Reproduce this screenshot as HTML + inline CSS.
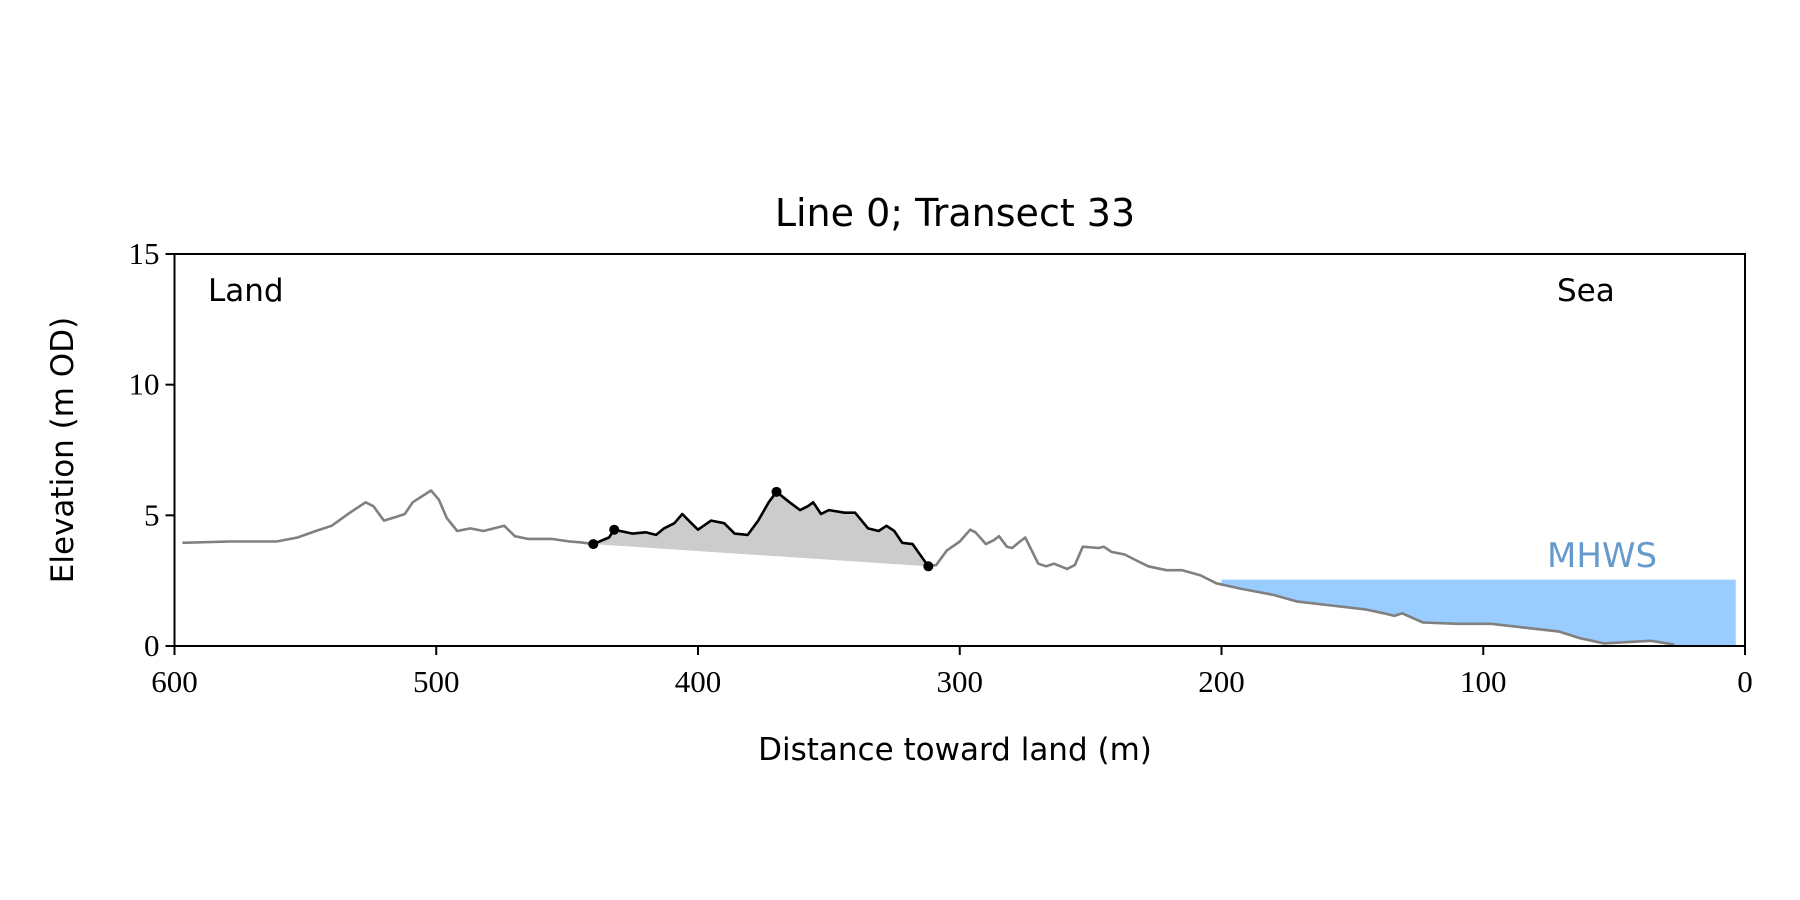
<!DOCTYPE html>
<html><head><meta charset="utf-8"><style>
html,body{margin:0;padding:0;background:#fff;}
svg{display:block;}
.sans{font-family:"DejaVu Sans","Liberation Sans",sans-serif;}
.serif{font-family:"Liberation Serif","DejaVu Serif",serif;}
</style></head><body>
<svg id="chart" width="1800" height="900" viewBox="0 0 1800 900">
<g id="plot"></g>
</svg>
<script>
const xTicks=[600,500,400,300,200,100,0];
const yTicks=[0,5,10,15];
const landDist=[597,579,561,553,546,540,533,527,524,520,515,512,509,502,499,496,492,487,482,474,470,465,456,449,445,440];
const landElev=[3.95,4.0,4.0,4.15,4.4,4.6,5.1,5.5,5.35,4.8,4.95,5.05,5.5,5.95,5.6,4.9,4.4,4.5,4.4,4.6,4.2,4.1,4.1,4.0,3.97,3.9];
const duneDist=[440,434,432,425,420,416,413,409,406,403,400,395,390,386,381,377,373,370,365,361,358,356,353,350,344,340,335,331,328,325,322,318,312];
const duneElev=[3.9,4.15,4.45,4.3,4.35,4.25,4.5,4.7,5.05,4.75,4.45,4.8,4.7,4.3,4.25,4.8,5.5,5.9,5.5,5.2,5.35,5.5,5.05,5.2,5.1,5.1,4.5,4.4,4.6,4.4,3.95,3.9,3.05];
const seaDist=[312,309,305,300,296,294,290,287,285,282,280,277,275,270,267,264,259,256,253,247,245,242,237,232,228,221,215,208,202,193,180,171,158,145,138,134,131,123,110,97,84,71,63,54,36,27];
const seaElev=[3.05,3.1,3.65,4.0,4.45,4.35,3.9,4.05,4.2,3.8,3.75,4.0,4.15,3.15,3.05,3.15,2.95,3.1,3.8,3.75,3.8,3.6,3.5,3.25,3.05,2.9,2.9,2.7,2.4,2.2,1.95,1.7,1.55,1.4,1.25,1.15,1.25,0.9,0.85,0.85,0.7,0.55,0.3,0.1,0.2,0.05];
const duneMarkers=[440,432,370,312];
const mhws=2.54;
const mhwsStart=200, mhwsEnd=3.5;

const L=174.5,R=1745,T=254,B=646;
const xs=d=>L+(600-d)/600*(R-L);
const ys=e=>B-e/15*(B-T);
const NS='http://www.w3.org/2000/svg';
const g=document.getElementById('plot');
function mk(tag,attrs,parent){const e=document.createElementNS(NS,tag);for(const k in attrs)e.setAttribute(k,attrs[k]);(parent||g).appendChild(e);return e;}
function pts(ds,es){return ds.map((d,i)=>xs(d).toFixed(1)+','+ys(es[i]).toFixed(1)).join(' ');}
function elevAt(d){const D=landDist.concat(duneDist,seaDist),E=landElev.concat(duneElev,seaElev);
 for(let i=0;i<D.length-1;i++){if(d<=D[i]&&d>=D[i+1]){const t=(D[i]-d)/(D[i]-D[i+1]||1);return E[i]+t*(E[i+1]-E[i]);}}
 return 0;}

// MHWS fill
{const top=[],bot=[];const steps=200;
 for(let i=0;i<=steps;i++){const d=mhwsStart+(mhwsEnd-mhwsStart)*i/steps;top.push(xs(d).toFixed(1)+','+ys(mhws).toFixed(1));
  bot.push(xs(d).toFixed(1)+','+ys(Math.min(elevAt(d),mhws)).toFixed(1));}
 const p=mk('polygon',{points:top.concat(bot.reverse()).join(' '),fill:'#99ccff'});
 
 }
// dune fill
{const p=mk('polygon',{points:pts(duneDist,duneElev),fill:'#cccccc'});
 
 }
// lines
{const l1=mk('polyline',{points:pts(landDist,landElev),fill:'none',stroke:'#808080','stroke-width':2.6,'stroke-linejoin':'round'});
 
 
 const l2=mk('polyline',{points:pts(seaDist,seaElev),fill:'none',stroke:'#808080','stroke-width':2.6,'stroke-linejoin':'round'});
 
 
 const l3=mk('polyline',{points:pts(duneDist,duneElev),fill:'none',stroke:'#000','stroke-width':2.6,'stroke-linejoin':'round'});
 
 }
duneMarkers.forEach(d=>{const c=mk('circle',{cx:xs(d),cy:ys(elevAt(d)),r:5,fill:'#000'});
 
 });
// axes frame
{const f=mk('rect',{x:L,y:T,width:R-L,height:B-T,fill:'none',stroke:'#000','stroke-width':2});
 
 }
xTicks.forEach(v=>{const t=mk('line',{x1:xs(v),x2:xs(v),y1:B,y2:B+9,stroke:'#000','stroke-width':2});
 
 
 const tx=mk('text',{x:xs(v),y:B+46,'text-anchor':'middle','font-size':31,class:'serif'});tx.textContent=v;
 
 });
yTicks.forEach(v=>{const t=mk('line',{x1:L-9,x2:L,y1:ys(v),y2:ys(v),stroke:'#000','stroke-width':2});
 
 
 const tx=mk('text',{x:L-15,y:ys(v)+10,'text-anchor':'end','font-size':31,class:'serif'});tx.textContent=v;
 
 });
</script>
<svg width="1800" height="900" style="position:absolute;left:0;top:0">
<text x="955" y="226" text-anchor="middle" font-size="38" class="sans">Line 0; Transect 33</text>
<text x="208" y="301" font-size="31" class="sans">Land</text>
<text x="1557" y="301" font-size="31" class="sans">Sea</text>
<text x="1547" y="567" font-size="34" fill="#6699cc" class="sans">MHWS</text>
<text x="955" y="760" text-anchor="middle" font-size="31" class="sans">Distance toward land (m)</text>
<text x="73" y="450" text-anchor="middle" font-size="31" class="sans" transform="rotate(-90 73 450)">Elevation (m OD)</text>
</svg>
</body></html>
